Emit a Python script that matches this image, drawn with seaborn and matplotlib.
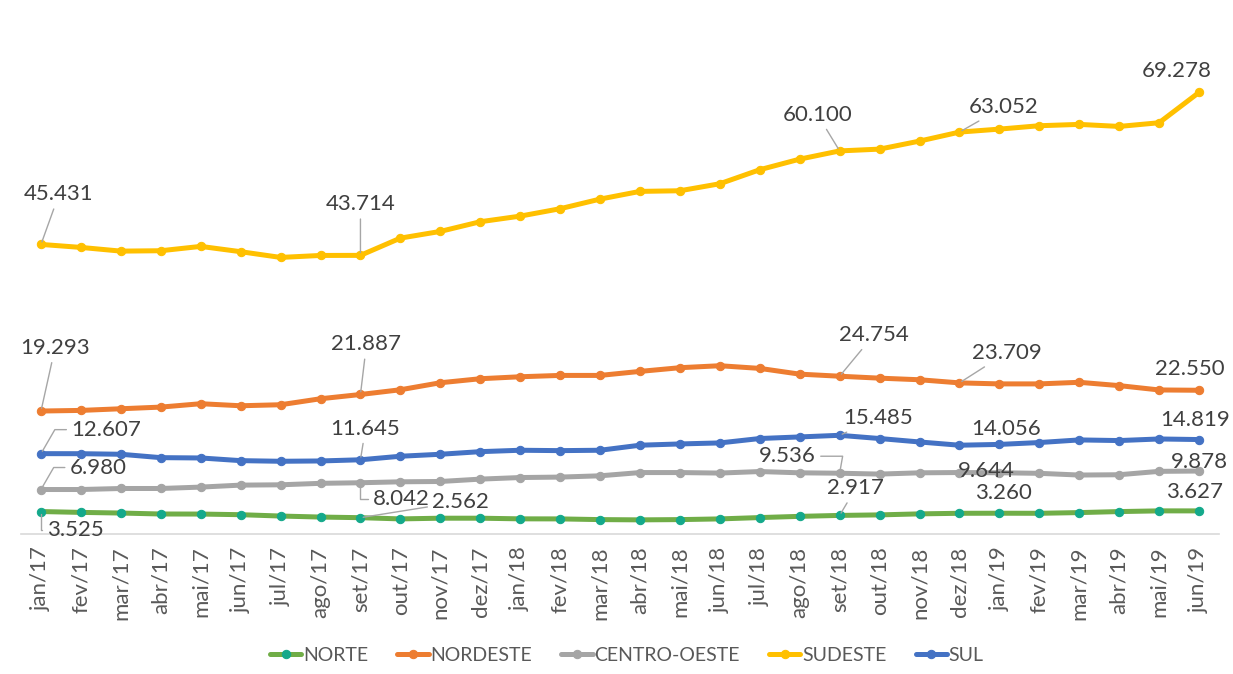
import matplotlib
matplotlib.use("Agg")
import matplotlib.pyplot as plt
import seaborn as sns
import pandas as pd

# monthly values (thousands, shown with '.' separator)
months = ["jan/17", "fev/17", "mar/17", "abr/17", "mai/17", "jun/17", "jul/17", "ago/17",
          "set/17", "out/17", "nov/17", "dez/17", "jan/18", "fev/18", "mar/18", "abr/18",
          "mai/18", "jun/18", "jul/18", "ago/18", "set/18", "out/18", "nov/18", "dez/18",
          "jan/19", "fev/19", "mar/19", "abr/19", "mai/19", "jun/19"]

norte = [3525, 3390, 3290, 3140, 3130, 3030, 2820, 2660, 2562, 2370, 2480, 2480, 2380, 2370, 2260,
         2220, 2260, 2370, 2580, 2770, 2917, 3000, 3160, 3250, 3260, 3250, 3360, 3520, 3630, 3627]
nordeste = [19293, 19390, 19650, 19910, 20440, 20120, 20280, 21220, 21887, 22630, 23730, 24360, 24670,
            24880, 24880, 25510, 26090, 26400, 25980, 25080, 24754, 24450, 24200, 23709, 23550, 23550,
            23800, 23280, 22600, 22550]
centro_oeste = [6980, 6980, 7140, 7140, 7360, 7670, 7720, 7950, 8042, 8190, 8240, 8610, 8860, 8930,
                9130, 9640, 9640, 9560, 9800, 9600, 9536, 9400, 9600, 9644, 9610, 9520, 9250, 9300,
                9830, 9878]
sudeste = [45431, 44960, 44380, 44440, 45120, 44290, 43390, 43700, 43714, 46420, 47470, 48990, 49870,
           51030, 52540, 53750, 53850, 54950, 57150, 58810, 60100, 60380, 61640, 63052, 63520, 64050,
           64260, 63940, 64520, 69278]
sul = [12607, 12600, 12510, 11980, 11930, 11510, 11410, 11460, 11645, 12200, 12510, 12920, 13140,
       13080, 13140, 13930, 14130, 14290, 14980, 15230, 15485, 14980, 14440, 13930, 14056, 14350,
       14760, 14660, 14910, 14819]

regions = ["NORTE", "NORDESTE", "CENTRO-OESTE", "SUDESTE", "SUL"]
series = {"NORTE": norte, "NORDESTE": nordeste, "CENTRO-OESTE": centro_oeste,
          "SUDESTE": sudeste, "SUL": sul}
colors = {"NORTE": "#70AD47", "NORDESTE": "#ED7D31", "CENTRO-OESTE": "#A5A5A5",
          "SUDESTE": "#FFC000", "SUL": "#4472C4"}
marker_colors = {"NORTE": "#14A98B"}

# data labels: (region, month index, dx px, dy px, leader connection)
labels = [
    ("SUDESTE", 0, 18, 50, "arc3"), ("SUDESTE", 8, 0, 51, "arc3"),
    ("SUDESTE", 20, -22, 36, "arc3"), ("SUDESTE", 23, 44, 25, "arc3"),
    ("SUDESTE", 29, -22, 21, None),
    ("NORDESTE", 0, 14, 63, "arc3"), ("NORDESTE", 8, 6, 50, "arc3"),
    ("NORDESTE", 20, 34, 41, "arc3"), ("NORDESTE", 23, 47, 30, "arc3"),
    ("NORDESTE", 29, -9, 21, None),
    ("SUL", 0, 65, 24, "angle,angleA=0,angleB=60,rad=0"), ("SUL", 8, 5, 31, "arc3"),
    ("SUL", 20, 38, 17, "arc3"), ("SUL", 24, 7, 15, None), ("SUL", 29, -4, 20, None),
    ("CENTRO-OESTE", 0, 57, 22, "angle,angleA=0,angleB=60,rad=0"),
    ("CENTRO-OESTE", 8, 41, -16, "angle,angleA=0,angleB=90,rad=0"),
    ("CENTRO-OESTE", 20, -52, 17, "angle,angleA=0,angleB=80,rad=0"),
    ("CENTRO-OESTE", 23, 27, 2, None), ("CENTRO-OESTE", 29, 0, 9, None),
    ("NORTE", 0, 34, -18, "angle,angleA=0,angleB=90,rad=0"), ("NORTE", 8, 100, 16, "arc3"),
    ("NORTE", 20, 16, 27, "arc3"), ("NORTE", 24, 4, 20, None), ("NORTE", 29, -5, 19, None),
]

sns.set_style("white")
plt.rcParams["font.family"] = ["Lato", "DejaVu Sans"]

fig = plt.figure(figsize=(12.33, 6.74), dpi=100)
ax = fig.add_axes([0.01705, 0.2077, 0.9716, 0.7566])

x = list(range(len(months)))
for name in regions:
    mc = marker_colors.get(name, colors[name])
    sns.lineplot(x=x, y=series[name], ax=ax, color=colors[name], lw=3.6, marker="o",
                 markersize=6, markerfacecolor=mc, markeredgecolor=mc, label=name)

for name, i, dx, dy, conn in labels:
    txt = f"{series[name][i]:,}".replace(",", ".")
    arrow = None
    if conn:
        arrow = dict(arrowstyle="-", color="#a6a6a6", lw=1.0, shrinkA=1, shrinkB=2,
                     connectionstyle=conn)
    ax.annotate(txt, xy=(i, series[name][i]), xytext=(dx, dy), textcoords="offset pixels",
                ha="center", va="center", fontsize=16, color="#404040", arrowprops=arrow,
                zorder=5)

ax.set_xlim(-0.5, len(months) - 0.5)
ax.set_ylim(0, 80000)
ax.set_yticks([])
ax.set_xticks(x)
ax.set_xticklabels(months, rotation=90, fontsize=16, color="#595959")
ax.set_xticks([i - 0.5 for i in range(len(months) + 1)], minor=True)
ax.tick_params(axis="x", which="major", length=0, pad=9)
ax.tick_params(axis="x", which="minor", length=7, width=1.2, color="#d9d9d9", direction="out")
for s in ["top", "right", "left"]:
    ax.spines[s].set_visible(False)
ax.spines["bottom"].set_color("#d9d9d9")
ax.spines["bottom"].set_linewidth(1.2)
ax.set_xlabel("")
ax.set_ylabel("")

handles, names = ax.get_legend_handles_labels()
ax.get_legend().remove()
fig.legend(handles, names, loc="center", bbox_to_anchor=(0.5085, 0.028), ncol=5, frameon=False,
           fontsize=14, handlelength=1.6, handletextpad=0.1, columnspacing=1.5,
           labelcolor="#595959")

fig.savefig("out.png", dpi=100, facecolor="white")
